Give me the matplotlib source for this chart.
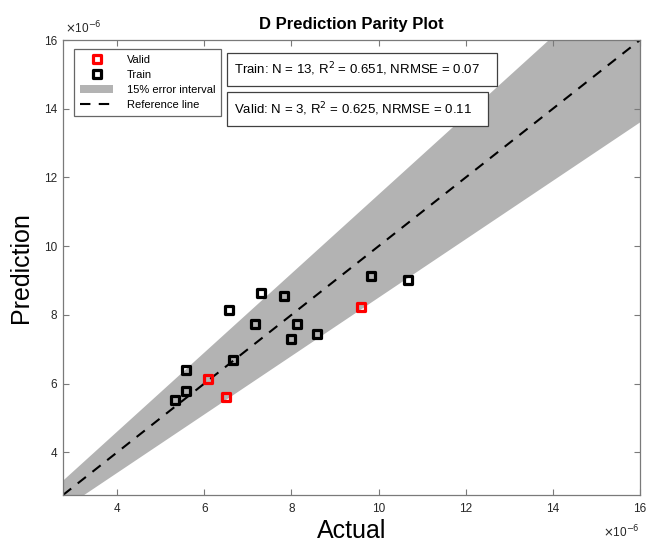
import numpy as np
import matplotlib
matplotlib.use('Agg')
import matplotlib.pyplot as plt
from matplotlib.markers import MarkerStyle
from matplotlib.patches import Rectangle

plt.rcParams['font.family'] = ['Liberation Sans', 'DejaVu Sans']

# valores en unidades de 1e-6
train_actual = [7.31, 7.83, 6.57, 7.17, 8.14, 8.00, 8.59, 6.66, 5.58, 5.58, 5.32, 9.82, 10.67]
train_pred = [8.64, 8.56, 8.13, 7.74, 7.74, 7.31, 7.44, 6.68, 6.41, 5.78, 5.51, 9.14, 9.02]
valid_actual = [6.09, 6.50, 9.60]
valid_pred = [6.14, 5.60, 8.23]

lims = [2.76, 16]
err = 0.15
ticks = [4, 6, 8, 10, 12, 14, 16]
train_txt = 'Train: N = 13, R$^2$ = 0.651, NRMSE = 0.07'
valid_txt = 'Valid: N = 3, R$^2$ = 0.625, NRMSE = 0.11'

fig = plt.figure(figsize=(6.48, 5.48), dpi=100)
ax = fig.add_axes([63/648, 1 - 495/548, 577/648, 455/548])

gris = '#b3b3b3'
eje = '#7a7a7a'

# banda de error y linea de referencia
xx = np.array(lims)
ax.fill_between(xx, xx * (1 - err), xx * (1 + err), color=gris, lw=0, label='15% error interval')
ref, = ax.plot(xx, xx, color='k', lw=1.5, linestyle=(0, (5, 4)), label='Reference line')

mk = MarkerStyle('s', joinstyle='round')
v, = ax.plot(valid_actual, valid_pred, linestyle='none', marker=mk, ms=5.6, mew=2.3,
             mfc='none', mec='#ff0000', label='Valid')
t, = ax.plot(train_actual, train_pred, linestyle='none', marker=mk, ms=5.6, mew=2.3,
             mfc='none', mec='k', label='Train')

ax.set_xlim(lims)
ax.set_ylim(lims)
ax.set_xticks(ticks)
ax.set_yticks(ticks)
ax.tick_params(direction='in', length=4, width=0.8, colors=eje, labelcolor='#262626',
               labelsize=8.5, top=True, right=True)
ax.tick_params(axis='x', pad=6)
ax.tick_params(axis='y', pad=4)
for s in ax.spines.values():
    s.set_color(eje)
    s.set_linewidth(0.9)

ax.set_title('D Prediction Parity Plot', fontsize=12, fontweight='bold', pad=8)
ax.set_xlabel('Actual', fontsize=18)
ax.set_ylabel('Prediction', fontsize=18)
ax.xaxis.set_label_coords(0.5, -0.052)
ax.yaxis.set_label_coords(-0.052, 0.5)

ax.text(0.003, 1.008, r'$\times$10$^{-6}$', transform=ax.transAxes, fontsize=8.5,
        color='#262626', va='bottom', ha='left')
ax.text(1.0, -0.062, r'$\times$10$^{-6}$', transform=ax.transAxes, fontsize=8.5,
        color='#262626', va='top', ha='right')

handles = [v, t, ax.collections[0], ref]
leg = ax.legend(handles=handles, loc='upper left', bbox_to_anchor=(0.019, 0.980),
                borderaxespad=0, fontsize=8, frameon=True, fancybox=False,
                labelspacing=0.45, handlelength=3.0, handletextpad=1.2, borderpad=0.55)
leg.get_frame().set_edgecolor('#404040')
leg.get_frame().set_linewidth(0.9)

# cuadros de texto
for (x0, x1, y0, y1, txt) in [(0.284, 0.753, 0.898, 0.972, train_txt),
                              (0.284, 0.737, 0.811, 0.886, valid_txt)]:
    ax.add_patch(Rectangle((x0, y0), x1 - x0, y1 - y0, transform=ax.transAxes,
                           facecolor='white', edgecolor='#404040', lw=0.9, zorder=5))
    ax.text(x0 + 0.012, (y0 + y1) / 2, txt, transform=ax.transAxes, fontsize=9.5,
            va='center', ha='left', zorder=6)

fig.savefig('out.png', dpi=100)
